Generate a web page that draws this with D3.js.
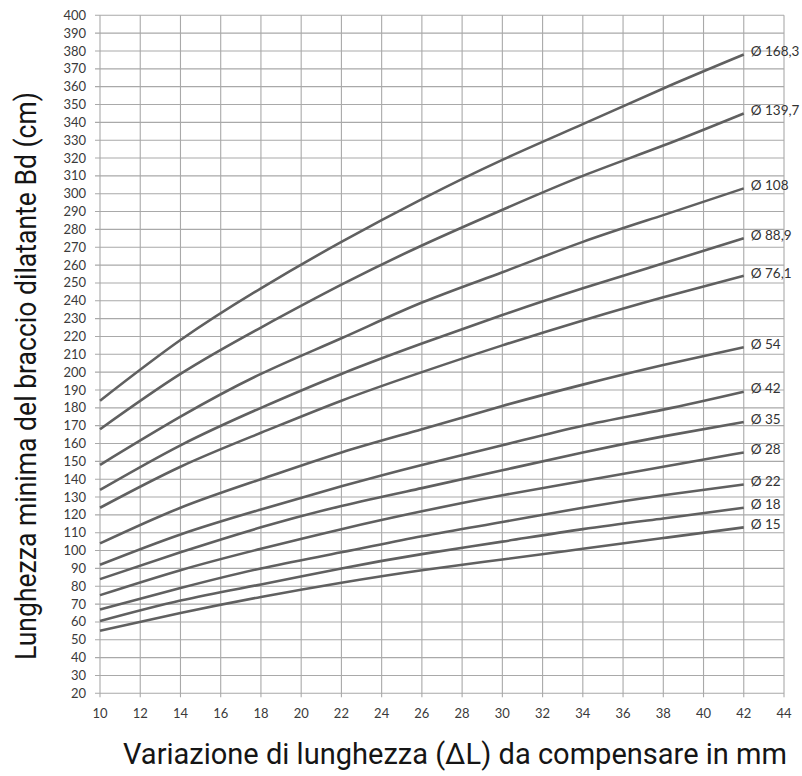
<!DOCTYPE html>
<html>
<head>
<meta charset="utf-8">
<script src="https://cdn.jsdelivr.net/npm/d3@7"></script>
<style>
  body { margin: 0; background: #fff; }
  svg { display: block; }
</style>
</head>
<body>
<script>
// delta L in mm where the curves were read
var xPoints = [10, 14, 18, 22, 26, 30, 34, 38, 42];

// pipe diameters (labels) and Bd values in cm
var diameters = ['Ø 168,3', 'Ø 139,7', 'Ø 108', 'Ø 88,9', 'Ø 76,1', 'Ø 54',
                 'Ø 42', 'Ø 35', 'Ø 28', 'Ø 22', 'Ø 18', 'Ø 15'];
var d168 = [184, 218, 247, 273, 297, 319, 339, 359, 378];
var d139 = [168, 199, 225, 249, 271, 291, 310, 327, 345];
var d108 = [148, 175, 199, 219, 239, 256, 273, 288, 303];
var d88  = [134, 159, 180, 199, 216, 232, 247, 261, 275];
var d76  = [124, 147, 166, 184, 200, 215, 229, 242, 254];
var d54  = [104, 124, 140, 155, 168, 181, 193, 204, 214];
var d42  = [92, 109, 123, 136, 148, 159, 170, 179, 189];
var d35  = [84, 99, 113, 125, 135, 145, 155, 164, 172];
var d28  = [75, 89, 101, 112, 122, 131, 139, 147, 155];
var d22  = [67, 79, 90, 99, 108, 116, 124, 131, 137];
var d18  = [60.5, 72, 81, 90, 98, 105, 112, 118, 124];
var d15  = [55, 65, 74, 82, 89, 95, 101, 107, 113];
var seriesValues = [d168, d139, d108, d88, d76, d54, d42, d35, d28, d22, d18, d15];

var xTicks = d3.range(10, 45, 2);
var yTicks = d3.range(20, 401, 10);

var xTitle = 'Variazione di lunghezza (ΔL) da compensare in mm';
var yTitle = 'Lunghezza minima del braccio dilatante Bd (cm)';

//setup sizes
var W = 802, H = 776;
var margin = {top: 15.3, left: 100, right: 18, bottom: 82.7};

var svg = d3.select('body').append('svg')
    .attr('width', W)
    .attr('height', H);

var xScale = d3.scaleLinear().domain([10, 44]).range([margin.left, W - margin.right]);
var yScale = d3.scaleLinear().domain([20, 400]).range([H - margin.bottom, margin.top]);

//grid
var grid = svg.append('g').attr('stroke', '#a9a9a9').attr('stroke-width', 1.1);
grid.selectAll('.hl').data(yTicks).enter().append('line')
    .attr('x1', xScale(10) - 5).attr('x2', xScale(44))
    .attr('y1', function(d) { return yScale(d); })
    .attr('y2', function(d) { return yScale(d); });
grid.selectAll('.vl').data(xTicks).enter().append('line')
    .attr('y1', yScale(400)).attr('y2', yScale(20) + 4)
    .attr('x1', function(d) { return xScale(d); })
    .attr('x2', function(d) { return xScale(d); });

//y tick labels
svg.append('g').selectAll('text').data(yTicks).enter().append('text')
    .attr('x', xScale(10) - 14)
    .attr('y', function(d) { return yScale(d); })
    .attr('dy', '0.35em')
    .attr('text-anchor', 'end')
    .style('font-family', 'Lato, sans-serif')
    .style('font-size', '13px')
    .style('fill', '#3a3a3a')
    .text(function(d) { return d; });

//x tick labels
svg.append('g').selectAll('text').data(xTicks).enter().append('text')
    .attr('x', function(d) { return xScale(d); })
    .attr('y', yScale(20) + 20)
    .attr('dy', '0.35em')
    .attr('text-anchor', 'middle')
    .style('font-family', 'Lato, sans-serif')
    .style('font-size', '13px')
    .style('fill', '#3a3a3a')
    .text(function(d) { return d; });

//curves
var line = d3.line()
    .x(function(d) { return xScale(d[0]); })
    .y(function(d) { return yScale(d[1]); })
    .curve(d3.curveNatural);

var curves = seriesValues.map(function(vals, i) {
    return {name: diameters[i], pts: vals.map(function(v, j) { return [xPoints[j], v]; })};
});

svg.append('g').selectAll('path').data(curves).enter().append('path')
    .attr('d', function(d) { return line(d.pts); })
    .attr('fill', 'none')
    .attr('stroke', '#606060')
    .attr('stroke-width', 2.6);

//curve labels
svg.append('g').selectAll('text').data(curves).enter().append('text')
    .attr('x', function(d) { return xScale(d.pts[d.pts.length - 1][0]) + 7; })
    .attr('y', function(d) { return yScale(d.pts[d.pts.length - 1][1]) - 3; })
    .attr('dy', '0.35em')
    .style('font-family', 'Lato, sans-serif')
    .style('font-size', '13.5px')
    .style('fill', '#333')
    .text(function(d) { return d.name; });

//axis titles
svg.append('text')
    .attr('x', 123).attr('y', 764)
    .attr('textLength', 664)
    .attr('lengthAdjust', 'spacingAndGlyphs')
    .style('font-family', 'Roboto, sans-serif')
    .style('font-size', '29px')
    .style('fill', '#151515')
    .text(xTitle);

svg.append('text')
    .attr('transform', 'translate(36,660) rotate(-90)')
    .attr('x', 0).attr('y', 0)
    .attr('textLength', 568)
    .attr('lengthAdjust', 'spacingAndGlyphs')
    .style('font-family', 'Roboto, sans-serif')
    .style('font-size', '29px')
    .style('fill', '#151515')
    .text(yTitle);
</script>
</body>
</html>
